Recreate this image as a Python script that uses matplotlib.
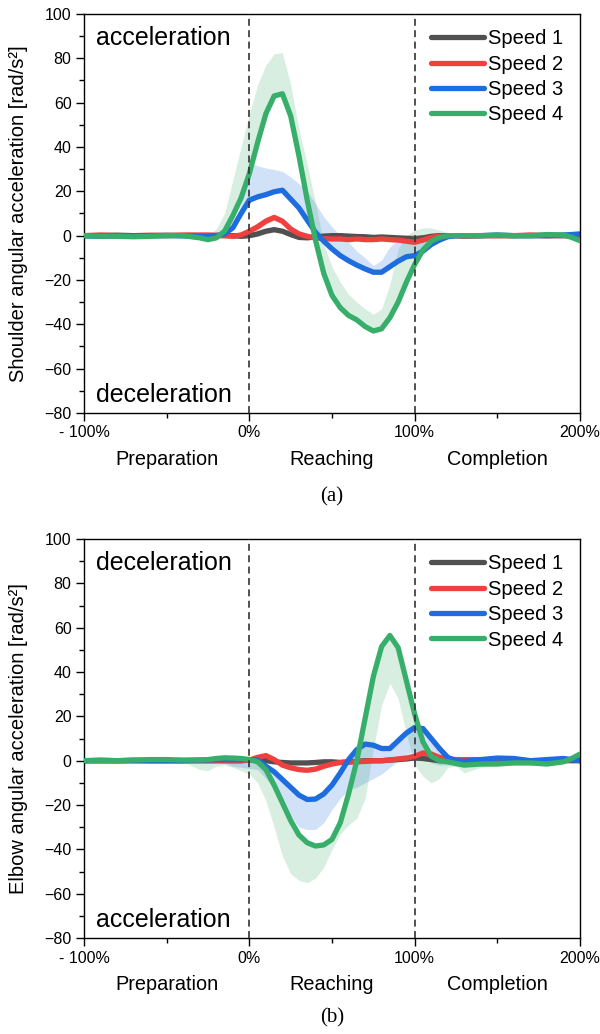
import matplotlib
matplotlib.use("Agg")
import matplotlib.pyplot as plt
import numpy as np

plt.rcParams['font.family'] = ['Liberation Sans', 'DejaVu Sans']
plt.rcParams['lines.scale_dashes'] = False

# time axis, % of reaching phase
pct = [-100, -90, -80, -70, -60, -50, -40, -30, -25, -20, -15, -10, -5, 0, 5, 10, 15, 20,
       25, 30, 35, 40, 45, 50, 55, 60, 65, 70, 75, 80, 85, 90, 95, 100, 105, 110, 115,
       120, 125, 130, 140, 150, 160, 170, 180, 190, 195, 200]

labels = ['Speed 1', 'Speed 2', 'Speed 3', 'Speed 4']
colors = ['#505050', '#EF3F3F', '#1D6CE0', '#38AE6B']

# ---- (a) shoulder ----
sh_s1 = [0, 0, 0.2, 0, 0, 0.2, 0, 0, 0, 0, 0, 0, -0.3, 0, 0.8, 2, 2.7, 2,
         0.5, -0.8, -1, -0.6, -0.2, 0, 0, -0.2, -0.4, -0.5, -0.8, -0.6, -0.8, -1, -1.2, -1.5, -1, -0.3, 0,
         0, 0, 0, 0, 0, 0, 0, 0, 0, 0, 0]
sh_s1_lo = [-0.5, -0.5, -0.3, -0.5, -0.5, -0.3, -0.5, -0.5, -0.5, -0.5, -0.5, -0.8, -1.2, -1, -0.5, 0.8, 1.5, 1,
            -0.5, -1.5, -1.8, -1.3, -0.8, -0.5, -0.5, -0.7, -0.9, -1, -1.3, -1.1, -1.3, -1.8, -2.2, -2.5, -2, -1, -0.5,
            -0.5, -0.5, -0.5, -0.5, -0.5, -0.5, -0.5, -0.5, -0.5, -0.5, -0.5]
sh_s1_hi = [0.5, 0.5, 0.7, 0.5, 0.5, 0.7, 0.5, 0.5, 0.5, 0.5, 0.5, 0.8, 0.6, 1, 2, 3.2, 4, 3,
            1.5, 0, -0.2, 0.1, 0.4, 0.5, 0.5, 0.3, 0.1, 0, -0.3, -0.1, -0.3, -0.2, 0, 0.5, 0.5, 0.5, 0.5,
            0.5, 0.5, 0.5, 0.5, 0.5, 0.5, 0.5, 0.5, 0.5, 0.5, 0.5]

sh_s2 = [0, 0.3, 0, 0, 0.2, 0, 0.3, 0.3, 0.3, 0.2, 0, -0.3, 0.3, 2, 4, 6.5, 8.2, 6.5,
         3, 0.8, -0.3, -1, -1.3, -1.5, -1.5, -1.8, -1.5, -1.8, -1.8, -1.5, -1.8, -2, -2.5, -3, -2, -0.8, -0.3,
         0, 0, -0.3, 0, 0, 0, 0.3, 0, 0, 0, 0]
sh_s2_lo = [-0.5, -0.2, -0.5, -0.5, -0.3, -0.5, -0.2, -0.2, -0.2, -0.3, -0.5, -0.8, -0.5, 1, 2.5, 5, 7, 5.5,
            2, 0, -1, -1.5, -1.8, -2, -2, -2.3, -2, -2.3, -2.3, -2, -2.5, -3, -3.5, -4, -3, -1.5, -0.8,
            -0.5, -0.5, -0.8, -0.5, -0.5, -0.5, -0.2, -0.5, -0.5, -0.5, -0.5]
sh_s2_hi = [0.5, 0.8, 0.5, 0.5, 0.7, 0.5, 0.8, 0.8, 0.8, 0.7, 0.5, 0.5, 1.5, 3.5, 6, 8.5, 9.8, 8,
            4.5, 1.8, 0.5, -0.3, -0.7, -0.8, -0.8, -1.1, -0.8, -1.1, -1, -0.5, -0.5, 0, 0.5, 0.5, 0.5, 0.5, 0.3,
            0.5, 0.5, 0.2, 0.5, 0.5, 0.5, 0.8, 0.5, 0.5, 0.5, 0.5]

sh_s3 = [0, -0.3, 0, 0, 0, 0, 0, -0.3, -0.3, 0, 0.8, 3.5, 10, 16, 17.5, 18.5, 19.8, 20.5,
         16.5, 12.5, 7, 1.5, -2.5, -6, -9, -11.3, -13.3, -15, -16.5, -16.5, -14, -11.5, -9.5, -9, -7, -4, -2,
         -0.5, 0, 0, 0, 0.3, 0, 0, 0, 0.3, 0.5, 0.8]
sh_s3_lo = [-0.5, -0.8, -0.5, -0.5, -0.5, -0.5, -0.5, -0.8, -0.8, -0.5, 0, 2.5, 9, 15, 16.5, 17.5, 18.8, 19.5,
            15.5, 11.5, 6, 0.5, -3.5, -7, -10, -12.3, -14.3, -16, -17.5, -17.5, -15, -12.5, -10.5, -10, -8, -5, -2.5,
            -1, -0.5, -0.5, -0.5, -0.2, -0.5, -0.5, -0.5, -0.2, 0, 0.3]
sh_s3_hi = [0.5, 0.2, 0.5, 0.5, 0.5, 0.5, 0.5, 0.2, 0.2, 0.5, 1.5, 5, 14, 33, 31.5, 30.5, 29.8, 29,
            26.5, 23.5, 20, 14.5, 8.5, 4, 0, -3, -7, -10, -13.5, -11, -5, -2, -2, -3.5, -2.5, -1, 0,
            0.5, 0.5, 0.5, 0.5, 0.8, 0.5, 0.5, 0.5, 0.8, 1, 1.3]

sh_s4 = [0, -0.3, -0.3, -0.5, -0.3, 0, 0, -1, -1.8, -1, 2, 9, 17, 28, 42, 55, 63, 64,
         54, 36, 16, -2, -17, -27, -32.5, -36, -38, -41, -43, -42, -37, -30, -21, -13, -6.5, -2.5, -0.8,
         0, 0, 0, 0, 0.2, 0, 0, 0.5, 0.3, -0.8, -2.3]
sh_s4_lo = [-0.8, -1.1, -1.1, -1.3, -1.1, -0.8, -0.8, -1.8, -2.6, -1.8, 1, 8, 16, 27, 41, 54, 62, 63,
            53, 35, 15, -3, -18, -28, -33.5, -37, -39, -42, -44, -43, -38, -31, -22, -14, -7.5, -3.3, -1.6,
            -0.8, -0.8, -0.8, -0.8, -0.6, -0.8, -0.8, -0.3, -0.5, -1.6, -3.1]
sh_s4_hi = [0.8, 0.5, 0.5, 0.3, 0.5, 0.8, 0.8, 0, 0.5, 3, 10, 25, 40, 55, 68, 77, 82, 82.5,
            68, 48, 32, 15, -4, -14, -21, -26.5, -30, -33, -35.5, -33, -22, -6, 0, 2.5, 3.5, 3.5, 2.5,
            1.5, 1, 0.5, 0.5, 0.7, 0.5, 0.5, 1, 0.8, 0, -1.5]

# ---- (b) elbow ----
el_s1 = [0, 0, 0, 0, 0, 0, 0, 0, 0, 0, 0, 0, 0, 0.3, 0.5, 0, -0.5, -0.8,
         -1, -1, -1, -0.8, -0.5, -0.5, -0.8, -0.5, -0.3, 0, 0, 0, 0.3, 0.5, 0.8, 1.2, 1, 0.5, 0,
         0, 0, 0, 0, 0, 0, 0, 0, 0, 0, 0]
el_s1_lo = [-0.5, -0.5, -0.5, -0.5, -0.5, -0.5, -0.5, -0.5, -0.5, -0.5, -0.5, -0.5, -0.5, -0.2, -0.2, -0.8, -1.3, -1.6,
            -1.8, -1.8, -1.8, -1.6, -1.3, -1.3, -1.6, -1.3, -1.1, -0.8, -0.8, -0.8, -0.5, -0.3, 0, 0.2, 0, -0.3, -0.5,
            -0.5, -0.5, -0.5, -0.5, -0.5, -0.5, -0.5, -0.5, -0.5, -0.5, -0.5]
el_s1_hi = [0.5, 0.5, 0.5, 0.5, 0.5, 0.5, 0.5, 0.5, 0.5, 0.5, 0.5, 0.5, 0.5, 0.8, 1.2, 0.8, 0.3, 0,
            -0.2, -0.2, -0.2, 0, 0.3, 0.3, 0, 0.3, 0.5, 0.8, 0.8, 0.8, 1.1, 1.3, 1.8, 2.5, 2.2, 1.3, 0.5,
            0.5, 0.5, 0.5, 0.5, 0.5, 0.5, 0.5, 0.5, 0.5, 0.5, 0.5]

el_s2 = [0, 0.3, 0, 0.2, 0, 0, 0, 0, 0, 0, 0, 0, 0, 0.3, 1.5, 2.3, 0.5, -2,
         -3.2, -4, -4.3, -3.8, -2.5, -1.5, -0.8, -0.6, -0.5, -0.3, 0, 0, 0.3, 0.8, 1.2, 2, 3.5, 3, 1.5,
         0.8, 0.5, 0.5, 0.5, 0.5, 0.3, 0, 0, 0, 0.5, 1]
el_s2_lo = [-0.5, -0.2, -0.5, -0.3, -0.5, -0.5, -0.5, -0.5, -0.5, -0.5, -0.5, -0.5, -0.5, -0.3, 0.5, 1.3, -0.5, -3,
            -4.2, -5, -5.3, -4.8, -3.5, -2.5, -1.8, -1.6, -1.5, -1.3, -1, -1, -0.7, -0.5, 0, 0.5, 2, 1.5, 0.5,
            0, -0.3, -0.3, -0.3, -0.3, -0.5, -0.5, -0.5, -0.5, 0, 0.5]
el_s2_hi = [0.5, 0.8, 0.5, 0.7, 0.5, 0.5, 0.5, 0.5, 0.5, 0.5, 0.5, 0.5, 0.5, 1, 2.8, 3.5, 1.5, -1,
            -2.2, -3, -3.3, -2.8, -1.5, -0.5, 0.2, 0.4, 0.5, 0.7, 1, 1, 1.3, 2, 2.5, 3.5, 5, 4.5, 2.5,
            1.5, 1.2, 1.2, 1.2, 1.2, 1, 0.5, 0.5, 0.5, 1, 1.5]

el_s3 = [0, 0, 0, 0, 0, 0, 0, 0.3, 0.3, 0.5, 0.5, 0.5, 0.5, 0.5, 0.3, -2.5, -5, -8.5,
         -12, -15.5, -17.5, -17.3, -15, -11, -5.5, 0.5, 5, 7.5, 7, 5.5, 5.5, 9, 12.5, 15, 14.5, 10, 5.5,
         1.5, 0, -0.3, 0.5, 1.2, 1, 0, 0.5, 1, 0.5, 0]
el_s3_lo = [-0.5, -0.5, -0.5, -0.5, -0.5, -0.5, -0.5, -0.3, -0.5, -0.5, -1, -2.5, -3, -3.5, -4, -8, -13, -19,
            -25, -30, -31, -31, -28, -22, -17, -13, -12, -10, -8, -6, -3, 0, 3, 4, 2, -1, -2,
            -2, -1.5, -1, -0.5, 0, 0, -0.8, -0.3, 0, -0.5, -1]
el_s3_hi = [0.5, 0.5, 0.5, 0.5, 0.5, 0.5, 0.5, 0.8, 0.8, 1, 1, 1, 1, 1, 1, -1.5, -4, -7.5,
            -11, -14.5, -16.5, -16.3, -14, -10, -4.5, 1.5, 6, 8.5, 8, 6.5, 6.5, 10, 13.5, 16, 15.5, 11, 6.5,
            2.5, 1, 0.5, 1.3, 2, 1.8, 0.8, 1.3, 1.8, 1.3, 0.8]

el_s4 = [0, 0, 0, 0.3, 0.5, 0.5, 0.3, 0.3, 0.5, 1, 1.3, 1.2, 1, 0.5, -0.5, -4, -11, -19,
         -27, -33.5, -37, -38.5, -38, -35.5, -28, -15, 0, 19, 38, 51.5, 56.5, 51, 36, 21, 8.5, 2, 0,
         -0.5, -1.3, -2, -1.5, -1.5, -1, -1, -1.5, -0.5, 1, 3]
el_s4_lo = [-0.5, -0.5, -0.5, -0.2, 0, -0.5, -0.5, -4, -4.5, -2.5, -2, -3, -4.5, -6, -10, -18, -30, -43,
            -51, -54, -55, -53, -48, -40, -33, -29, -26, -17, 5, 25, 35, 28, 12, -2, -7, -10, -8,
            -3, -2.5, -5.5, -3, -2, -2, -2, -2, -1, 0.5, 2.5]
el_s4_hi = [0.8, 0.8, 0.8, 1.1, 1.3, 1.3, 1.1, 1.1, 1.3, 1.8, 2.1, 2, 1.8, 1.3, 0.5, -3, -10, -18,
            -26, -32.5, -36, -37.5, -37, -34.5, -27, -14, 1, 20, 39, 52.5, 57.5, 52, 37, 22, 9.5, 3, 1,
            0.5, -0.3, -1, -0.5, -0.5, 0, 0, -0.5, 0.5, 2, 4]

panels = [
    ('Shoulder angular acceleration [rad/s²]', 'acceleration', 'deceleration', '(a)',
     [(sh_s1, sh_s1_lo, sh_s1_hi), (sh_s2, sh_s2_lo, sh_s2_hi),
      (sh_s3, sh_s3_lo, sh_s3_hi), (sh_s4, sh_s4_lo, sh_s4_hi)]),
    ('Elbow angular acceleration [rad/s²]', 'deceleration', 'acceleration', '(b)',
     [(el_s1, el_s1_lo, el_s1_hi), (el_s2, el_s2_lo, el_s2_hi),
      (el_s3, el_s3_lo, el_s3_hi), (el_s4, el_s4_lo, el_s4_hi)]),
]

fig = plt.figure(figsize=(6, 10.34), dpi=100)
ax_boxes = [[0.14, 0.6006, 0.8267, 0.3859], [0.14, 0.0928, 0.8267, 0.3859]]
cap_y = [0.5193, 0.0155]

for k, (ylab, top_txt, bot_txt, cap, series) in enumerate(panels):
    ax = fig.add_axes(ax_boxes[k])
    handles = []
    for (m, lo, hi), c, lab in zip(series, colors, labels):
        ln, = ax.plot(pct, m, color=c, lw=3.8, solid_capstyle='round',
                      solid_joinstyle='round', label=lab)
        ax.fill_between(pct, lo, hi, color=c, alpha=0.2, lw=0)
        handles.append(ln)
    # green on top
    handles[-1].set_zorder(3)

    for xv in (0, 100):
        ax.axvline(xv, color='#333333', lw=1.2, ls=(0, (5, 3.2)), zorder=5)

    ax.set_xlim(-100, 200)
    ax.set_ylim(-80, 100)
    ax.set_xticks([-100, 0, 100, 200], ['- 100%', '0%', '100%', '200%'])
    ax.set_xticks([-50, 50, 150], minor=True)
    ax.set_yticks(np.arange(-80, 101, 20))
    ax.set_yticks(np.arange(-70, 100, 20), minor=True)
    ax.tick_params(which='major', direction='out', length=6, width=1, labelsize=11.5, pad=3)
    ax.tick_params(which='minor', direction='out', length=3.5, width=1)
    for sp in ax.spines.values():
        sp.set_linewidth(1.0)

    ax.set_ylabel(ylab, fontsize=14.5)
    ax.yaxis.set_label_coords(-0.112, 0.5)

    ax.text(-93, 86, top_txt, fontsize=18, va='baseline', ha='left')
    ax.text(-93, -75, bot_txt, fontsize=18, va='baseline', ha='left')

    for xv, ph in zip((-50, 50, 150), ('Preparation', 'Reaching', 'Completion')):
        ax.text(xv, -0.130, ph, transform=ax.get_xaxis_transform(), fontsize=14.3,
                ha='center', va='baseline')

    ax.legend(handles=handles, loc='upper left', bbox_to_anchor=(0.70, 0.962),
              frameon=False, handlelength=2.6, handletextpad=0.2, labelspacing=0.32,
              borderaxespad=0, borderpad=0, fontsize=14.5)

    fig.text(0.553, cap_y[k], cap, fontsize=15, ha='center', va='center',
             family='Liberation Serif')

fig.savefig('out.png', dpi=100)
